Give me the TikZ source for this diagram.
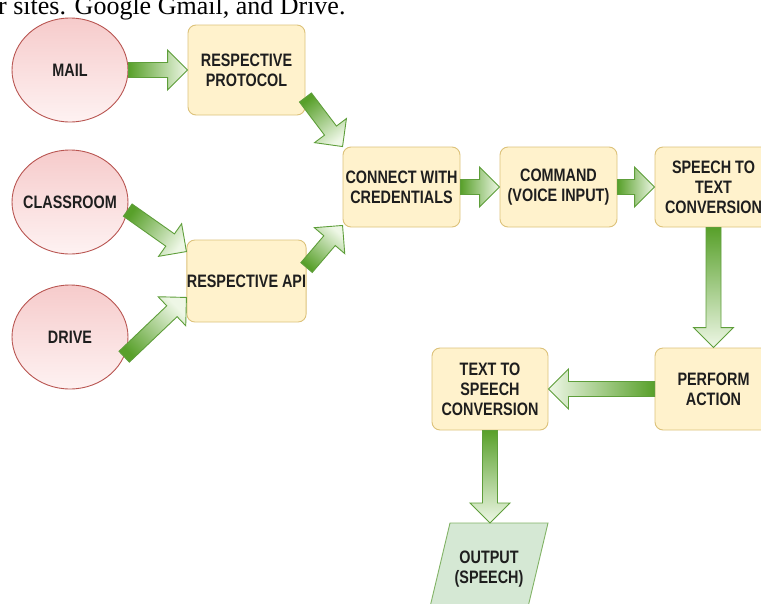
\documentclass[tikz,border=0pt]{standalone}
\usepackage{fontspec}
\setmainfont{Liberation Sans}
\newfontfamily\labfont[FakeStretch=0.8]{Liberation Sans}
\newfontfamily\serffont{Liberation Serif}
\usetikzlibrary{calc,shapes.geometric}
\definecolor{ellline}{HTML}{B85450}
\definecolor{elltop}{HTML}{F6CBCB}
\definecolor{ellbot}{HTML}{FEF2F2}
\definecolor{boxfill}{HTML}{FFF2CC}
\definecolor{boxline}{HTML}{DCC27A}
\definecolor{outfill}{HTML}{D5E8D4}
\definecolor{outln}{HTML}{82B366}
\definecolor{arrdark}{HTML}{58A02A}
\definecolor{arrlight}{HTML}{EEF7E6}
\definecolor{arrline}{HTML}{5E9E3A}
\definecolor{txt}{HTML}{1E1E1E}
\tikzset{
  lbl/.style={font=\labfont\bfseries\fontsize{18}{20}\selectfont, align=center, text=txt},
  src/.style={ellipse, draw=ellline, line width=0.9pt, top color=elltop, bottom color=ellbot,
    minimum width=116pt, minimum height=104pt, inner xsep=-16pt, inner ysep=0pt, lbl},
  stepbox/.style={rectangle, rounded corners=8pt, draw=boxline, line width=0.9pt, fill=boxfill,
    minimum width=117pt, minimum height=80pt, inner sep=0pt, lbl},
  outshape/.style={draw=outln, line width=0.9pt, fill=outfill},
  fatarr/.style={draw=arrline, line width=0.9pt, top color=arrdark, bottom color=arrlight}
}
\newcommand\fatarrow[2]{%
  \path let \p1=($(#2)-(#1)$) in \pgfextra{\pgfmathsetmacro\fatang{atan2(\y1,\x1)+90}\global\let\fatangG\fatang};
  \path[fatarr, shading angle=\fatangG] let \p1=(#1), \p2=(#2), \p3=($(#2)!20pt!(#1)$) in
    ($(\p1)!7.5pt!90:(\p2)$) -- ($(\p3)!7.5pt!90:(\p2)$) -- ($(\p3)!20pt!90:(\p2)$) -- (\p2)
    -- ($(\p3)!20pt!-90:(\p2)$) -- ($(\p3)!7.5pt!-90:(\p2)$) -- ($(\p1)!7.5pt!-90:(\p2)$) -- cycle;
}
\begin{document}
\begin{tikzpicture}[x=1pt,y=-1pt]
\useasboundingbox (0,0) rectangle (761,603);
\clip (0,0) rectangle (761,603);
\node[anchor=base west, font=\serffont\fontsize{26}{30}\selectfont, inner sep=0pt] (caption) at (-2,14) {r sites. Google Gmail, and Drive.};

\node[src] (mail) at (70,70) {MAIL};
\node[src] (class) at (70,202) {CLASSROOM};
\node[src] (drive) at (70,337) {DRIVE};

\node[stepbox, minimum height=90pt] (prot) at (246.5,70) {RESPECTIVE\\PROTOCOL};
\node[stepbox, minimum height=82pt] (api) at (246.5,281) {RESPECTIVE API};
\node[stepbox] (conn) at (401.5,187) {CONNECT WITH\\CREDENTIALS};
\node[stepbox] (cmd) at (558.5,187) {COMMAND\\(VOICE INPUT)};
\node[stepbox] (s2t) at (713.5,187) {SPEECH TO\\TEXT\\CONVERSION};
\node[stepbox, minimum height=82pt] (perf) at (713.5,389) {PERFORM\\ACTION};
\node[stepbox, minimum height=82pt, minimum width=116pt] (t2s) at (490,389) {TEXT TO\\SPEECH\\CONVERSION};

\draw[outshape] (450,523) -- (548,523) -- (528,607) -- (430,607) -- cycle;
\node[lbl] (out) at (489,569) {OUTPUT\\(SPEECH)};

\coordinate (apiIn1) at ($(api.north west)+(0,12)$);
\coordinate (apiIn2) at ($(api.south west)+(0,-25)$);
\coordinate (apiOut) at ($(api.north east)+(0,28)$);
\coordinate (connIn2) at ($(conn.south west)+(0,-2)$);
\coordinate (outtop) at (490,523);

\fatarrow{mail.east}{prot.west}
\fatarrow{prot.-25}{conn.north west}
\fatarrow{class.-8}{apiIn1}
\fatarrow{drive.-20}{apiIn2}
\fatarrow{apiOut}{connIn2}
\fatarrow{conn.east}{cmd.west}
\fatarrow{cmd.east}{s2t.west}
\fatarrow{s2t.south}{perf.north}
\fatarrow{perf.west}{t2s.east}
\fatarrow{t2s.south}{outtop}
\end{tikzpicture}
\end{document}
